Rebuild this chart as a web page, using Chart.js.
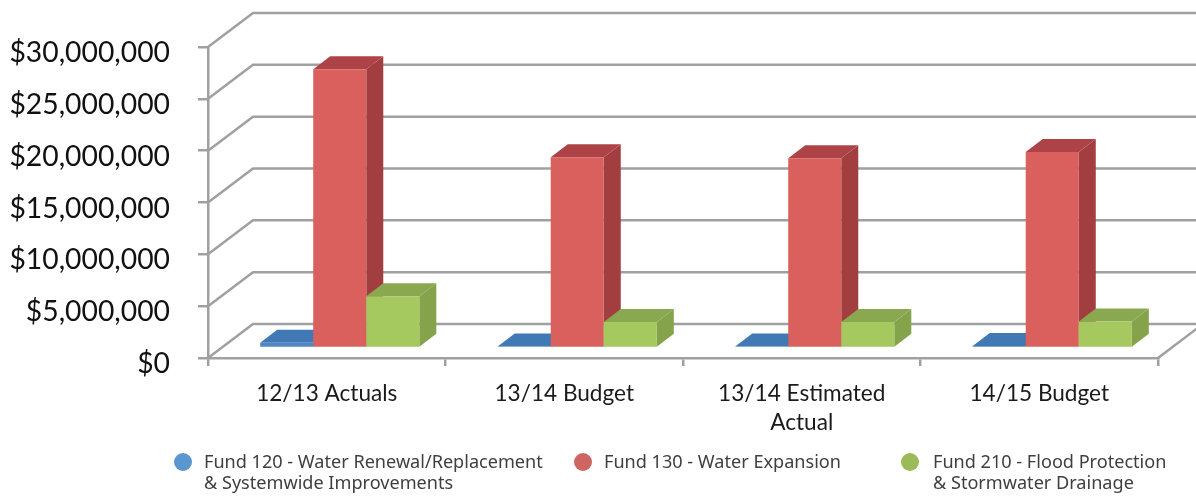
<!DOCTYPE html>
<html><head><meta charset="utf-8">
<style>html,body{margin:0;padding:0;background:#fff}#w{position:relative;width:1196px;height:497px}</style>
<script src="https://cdn.jsdelivr.net/npm/chart.js@4"></script>
</head><body><div id="w"><canvas id="c" width="1196" height="497"></canvas></div>
<script>
const categories = [['12/13 Actuals'], ['13/14 Budget'], ['13/14 Estimated', 'Actual'], ['14/15 Budget']];
const fund120 = [500000, 150000, 150000, 200000];
const fund130 = [26900000, 18400000, 18300000, 18900000];
const fund210 = [5000000, 2500000, 2500000, 2550000];
const legendLines = [
  ['Fund 120 - Water Renewal/Replacement', '& Systemwide Improvements'],
  ['Fund 130 - Water Expansion'],
  ['Fund 210 - Flood Protection', '& Stormwater Drainage']
];
const legendColors = ['#5b96cf', '#cf6560', '#9bbb59'];
const legendX = [183, 583, 910];
const legendTextX = [204, 604, 933];
const WALL = {dx: 45, dy: -34};
const SHIFT = {dx: 13, dy: -10};
const DEPTH = {dx: 17, dy: -13};
const GRID = '#a0a0a0';
const shades = [
  {side: '#3c6ea6', top: '#4079b4'},
  {side: '#a33e40', top: '#ad4346'},
  {side: '#84a34a', top: '#8aa850'}
];
const bars3d = {
  id: 'bars3d',
  beforeDatasetsDraw(chart) {
    const {ctx, chartArea: a, scales: {y}} = chart;
    ctx.save();
    ctx.strokeStyle = GRID; ctx.lineWidth = 2.5;
    y.ticks.forEach(t => {
      const py = y.getPixelForValue(t.value);
      ctx.beginPath();
      ctx.moveTo(a.left, py);
      ctx.lineTo(a.left + WALL.dx, py + WALL.dy);
      ctx.lineTo(a.right + WALL.dx, py + WALL.dy);
      ctx.stroke();
    });
    ctx.beginPath();
    ctx.moveTo(a.right, a.bottom);
    ctx.lineTo(a.right + WALL.dx, a.bottom + WALL.dy);
    ctx.stroke();
    ctx.restore();
  },
  beforeDatasetDraw() { return false; },
  afterDatasetsDraw(chart) {
    const {ctx} = chart;
    chart.getSortedVisibleDatasetMetas().forEach((meta, i) => {
      const s = shades[i];
      ctx.save();
      ctx.translate(SHIFT.dx, SHIFT.dy);
      meta.data.forEach(el => {
        const {x, y, base, width} = el.getProps(['x', 'y', 'base', 'width'], true);
        const l = x - width / 2, r = x + width / 2;
        ctx.fillStyle = s.side;
        ctx.beginPath();
        ctx.moveTo(r, y); ctx.lineTo(r + DEPTH.dx, y + DEPTH.dy);
        ctx.lineTo(r + DEPTH.dx, base + DEPTH.dy); ctx.lineTo(r, base);
        ctx.closePath(); ctx.fill();
        ctx.fillStyle = s.top;
        ctx.beginPath();
        ctx.moveTo(l, y); ctx.lineTo(l + DEPTH.dx, y + DEPTH.dy);
        ctx.lineTo(r + DEPTH.dx, y + DEPTH.dy); ctx.lineTo(r, y);
        ctx.closePath(); ctx.fill();
      });
      meta.controller.draw();
      ctx.restore();
    });
  },
  afterDraw(chart) {
    const {ctx} = chart;
    ctx.save();
    ctx.font = '18.1px "Noto Sans"';
    ctx.textBaseline = 'middle';
    legendLines.forEach((lines, i) => {
      ctx.fillStyle = legendColors[i];
      ctx.beginPath(); ctx.arc(legendX[i], 462, 9, 0, Math.PI * 2); ctx.fill();
      ctx.fillStyle = '#3f3f3f';
      lines.forEach((t, k) => ctx.fillText(t, legendTextX[i], 463 + k * 21));
    });
    ctx.restore();
  }
};
new Chart(document.getElementById('c'), {
  type: 'bar',
  data: {
    labels: categories,
    datasets: [
      {label: 'Fund 120', data: fund120, backgroundColor: '#4f88c4'},
      {label: 'Fund 130', data: fund130, backgroundColor: '#d9605c'},
      {label: 'Fund 210', data: fund210, backgroundColor: '#a6c95f'}
    ]
  },
  plugins: [bars3d],
  options: {
    responsive: false, animation: false,
    layout: {padding: {top: 47, right: 38, left: 0, bottom: 0}},
    datasets: {bar: {categoryPercentage: 0.67, barPercentage: 1}},
    plugins: {legend: {display: false}, tooltip: {enabled: false}},
    scales: {
      x: {
        afterFit(s) { s.height = 139; },
        grid: {drawOnChartArea: false, drawTicks: true, tickLength: 8, color: GRID, lineWidth: 2.5, offset: true},
        border: {color: GRID, width: 2.5},
        ticks: {color: '#1a1a1a', font: {family: 'Lato', size: 22.6, lineHeight: 1.28}, maxRotation: 0, padding: 13}
      },
      y: {
        min: 0, max: 30000000,
        afterFit(s) { s.width = 208; },
        grid: {drawOnChartArea: false, drawTicks: true, tickLength: 10, color: GRID, lineWidth: 2.5},
        border: {color: GRID, width: 2.5},
        ticks: {
          stepSize: 5000000, color: '#111111', padding: 28, labelOffset: 6,
          font: {family: 'Lato', size: 28.3},
          callback: v => '$' + v.toLocaleString('en-US')
        }
      }
    }
  }
});
</script></body></html>
